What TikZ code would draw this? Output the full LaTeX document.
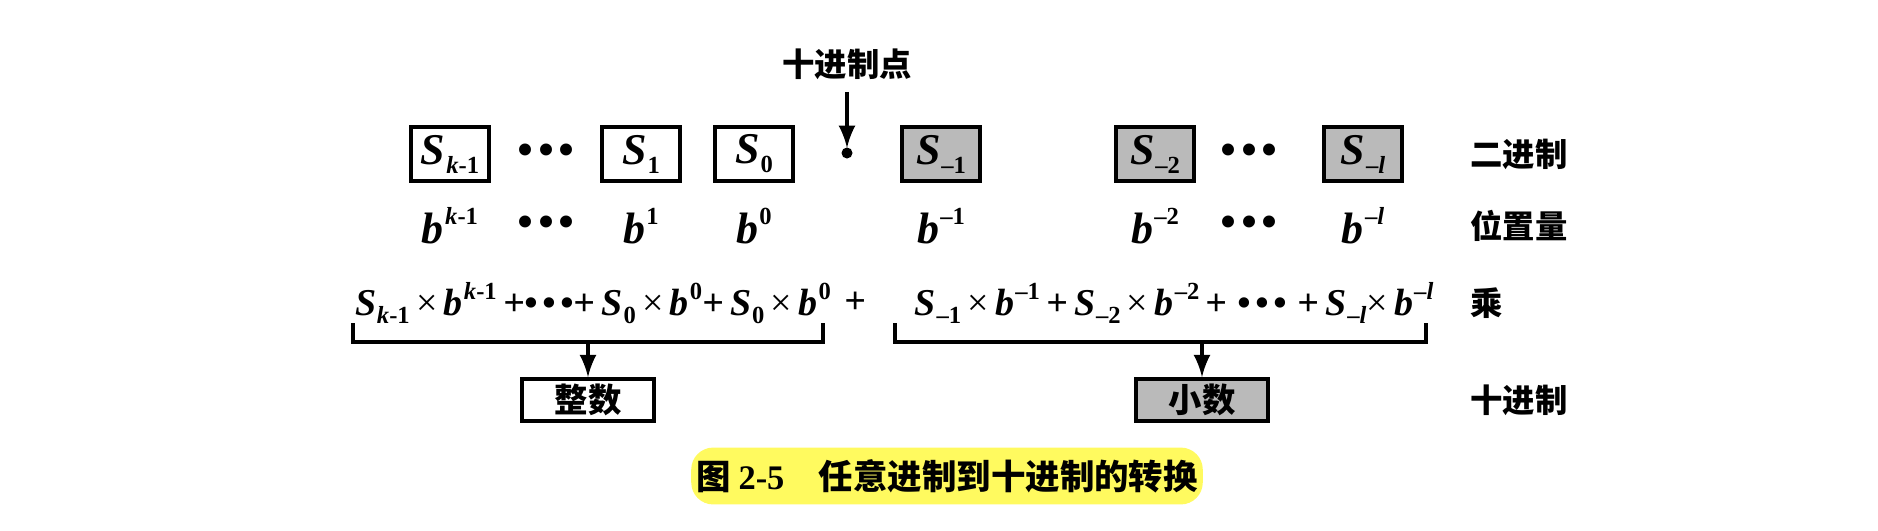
\documentclass[tikz,border=0pt]{standalone}
\usepackage{fontspec}
\setmainfont{Liberation Serif}
\newfontfamily\cjk{Noto Sans CJK SC}
\usepackage{xcolor}
\usetikzlibrary{arrows}

\definecolor{capyellow}{RGB}{255,250,95}
\colorlet{digitgray}{black!27}

\newcommand{\Sd}[1]{\textit{S}\kern0.02em\raisebox{-0.45ex}{\scriptsize\upshape #1}}
\newcommand{\bp}[1]{\textit{b}\kern0.03em\raisebox{0.95ex}{\scriptsize\upshape #1}}
\newcommand{\tm}{{\mdseries\upshape ×}}
\newcommand{\dts}{•\kern0.12em•\kern0.12em•}

\tikzset{
  digit/.style={draw, line width=1pt, minimum width=0.78cm, minimum height=0.54cm,
    inner sep=0pt, font=\fontsize{12.5}{14}\selectfont\bfseries\itshape},
  fracdigit/.style={digit, fill=digitgray},
  weight/.style={font=\fontsize{12.5}{14}\selectfont\bfseries\itshape},
  product/.style={font=\fontsize{10.8}{14}\selectfont\bfseries\itshape, inner sep=0pt},
  rowlabel/.style={anchor=west, font=\cjk\bfseries\fontsize{9.2}{11}\selectfont},
  result/.style={draw, line width=1pt, minimum width=1.32cm, minimum height=0.42cm,
    inner sep=0pt, font=\cjk\bfseries\fontsize{9.5}{11}\selectfont},
  bracket/.style={line width=0.9pt},
}

\begin{document}
\begin{tikzpicture}
\useasboundingbox (0,0) rectangle (18.78,5.30);

%binary digits
\node[digit] (sk) at (4.50,3.76) {\Sd{\textit{k}-1}};
\node[weight] (dk) at (5.46,3.76) {\dts};
\node[digit] (s1) at (6.41,3.76) {\Sd{1}};
\node[digit] (s0) at (7.54,3.76) {\Sd{0}};
\coordinate (pt) at (8.47,3.77);
\fill (pt) circle (0.055);
\node[fracdigit] (sm1) at (9.41,3.76) {\Sd{–1}};
\node[fracdigit] (sm2) at (11.55,3.76) {\Sd{–2}};
\node[weight] (dl) at (12.49,3.76) {\dts};
\node[fracdigit] (sml) at (13.63,3.76) {\Sd{–\textit{l}}};
\node[rowlabel] (lbin) at (14.58,3.76) {二进制};

%decimal point
\node[font=\cjk\bfseries\fontsize{9.2}{11}\selectfont] (dp) at (8.47,4.66) {十进制点};
\coordinate (ptop) at (8.47,3.82);
\draw[-latex,line width=1.2pt] (dp) -- (ptop);

%weights
\node[weight] (bk) at (4.50,3.04) {\bp{\textit{k}-1}};
\node[weight] (bdk) at (5.46,3.04) {\dts};
\node[weight] (b1) at (6.41,3.04) {\bp{1}};
\node[weight] (b0) at (7.54,3.04) {\bp{0}};
\node[weight] (bm1) at (9.41,3.04) {\bp{–1}};
\node[weight] (bm2) at (11.55,3.04) {\bp{–2}};
\node[weight] (bdl) at (12.49,3.04) {\dts};
\node[weight] (bml) at (13.63,3.04) {\bp{–\textit{l}}};
\node[rowlabel] (lpos) at (14.58,3.04) {位置量};

%products
\node[product] (intsum) at (5.93,2.27)
  {\Sd{\textit{k}-1}\,\tm\,\bp{\textit{k}-1}\,+\dts+\,\Sd{0}\,\tm\,\bp{0}+\,\Sd{0}\,\tm\,\bp{0}};
\node[product] (plus) at (8.55,2.27) {+};
\node[product] (fracsum) at (11.74,2.27)
  {\Sd{–1}\,\tm\,\bp{–1}\,+\,\Sd{–2}\,\tm\,\bp{–2}\,+\;\dts\;+\,\Sd{–\textit{l}}\tm\,\bp{–\textit{l}}};
\node[rowlabel] (lmul) at (14.58,2.27) {乘};

%brackets
\coordinate (ia) at (3.53,2.07);
\coordinate (ib) at (8.23,2.07);
\coordinate (imid) at (5.88,1.88);
\coordinate (fa) at (8.95,2.07);
\coordinate (fb) at (14.26,2.07);
\coordinate (fmid) at (12.02,1.88);
\draw[bracket] (ia) |- (ib |- imid) -- (ib);
\draw[bracket] (fa) |- (fb |- fmid) -- (fb);

%decimal results
\node[result] (intpart) at (5.88,1.30) {整数};
\node[result, fill=digitgray] (fracpart) at (12.02,1.30) {小数};
\node[rowlabel] (ldec) at (14.58,1.30) {十进制};
\draw[-latex,line width=1.2pt] (imid) -- (intpart);
\draw[-latex,line width=1.2pt] (fmid) -- (fracpart);

%caption
\node[fill=capyellow, rounded corners=0.22cm, inner xsep=0.05cm, minimum height=0.48cm,
  font=\cjk\bfseries\fontsize{9.8}{11}\selectfont] (cap) at (9.47,0.54)
  {图 {\rmfamily\bfseries 2-5}\quad 任意进制到十进制的转换};
\end{tikzpicture}
\end{document}
